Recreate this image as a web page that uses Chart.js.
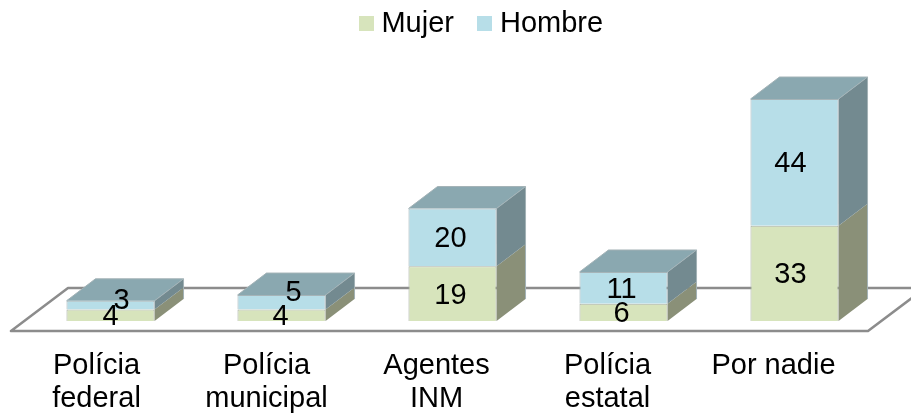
<!DOCTYPE html>
<html>
<head>
<meta charset="utf-8">
<script src="https://cdn.jsdelivr.net/npm/chart.js@4"></script>
<style>
html, body { margin: 0; padding: 0; background: #fff; }
#wrap { width: 911px; height: 416px; }
</style>
</head>
<body>
<div id="wrap"><canvas id="chart"></canvas></div>
<script>
const categorias = [["Polícia", "federal"], ["Polícia", "municipal"], ["Agentes", "INM"], ["Polícia", "estatal"], "Por nadie"];
const mujer = [4, 4, 19, 6, 33];
const hombre = [3, 5, 20, 11, 44];

const fontName = '"Liberation Sans", Arial, sans-serif';
const depthX = 29, depthY = 22;

// caras laterales por serie
const caras = [
    { side: "#8A9078" },
    { side: "#738A90", top: "#8AA8B0" }
];

// corrimiento de textos respecto a cada barra
const corrimientoEje = [-14, -15, -16, -16, -21];
const corrimientoDato = [0, -1, -2, -2, -4];
// etiquetas que se solapan: [serie, categoria, dx, dy]
const ajustes = [[1, 0, 11, -6], [1, 1, 12, -11]];

function leyendaBox(color) {
    const c = document.createElement("canvas");
    c.width = 15;
    c.height = 15;
    const g = c.getContext("2d");
    g.fillStyle = color;
    g.fillRect(0, 0, 15, 15);
    return c;
}

function poly(ctx, pts, fill) {
    ctx.beginPath();
    pts.forEach((p, i) => i ? ctx.lineTo(p[0], p[1]) : ctx.moveTo(p[0], p[1]));
    ctx.closePath();
    ctx.fillStyle = fill;
    ctx.fill();
}

const bar3d = {
    id: "bar3d",
    afterLayout(chart) {
        // centra la leyenda como en el original
        chart.legend.left += 32;
        chart.legend.right += 32;
        chart.scales.x.getLabelItems().forEach((item, i) => {
            item.options.translation[0] += corrimientoEje[i];
        });
    },
    beforeDatasetsDraw(chart) {
        const ctx = chart.ctx;
        const area = chart.chartArea;
        const y0 = chart.scales.y.getPixelForValue(0);

        // piso
        const fy = y0 + 10;
        const fl = area.left - 14;
        const fr = area.right - 12;
        const bdy = 43, bdx = 57;
        ctx.save();
        ctx.strokeStyle = "#8C8C8C";
        ctx.lineWidth = 2.5;
        ctx.lineJoin = "round";
        ctx.beginPath();
        ctx.moveTo(fl, fy);
        ctx.lineTo(fr, fy);
        ctx.lineTo(fr + bdx, fy - bdy);
        ctx.lineTo(fl + bdx, fy - bdy);
        ctx.closePath();
        ctx.stroke();

        // lados y tapas
        chart.data.datasets.forEach((ds, i) => {
            chart.getDatasetMeta(i).data.forEach(bar => {
                const p = bar.getProps(["x", "y", "base", "width"], true);
                const r = p.x + p.width / 2;
                const l = p.x - p.width / 2;
                poly(ctx, [[r, p.base], [r + depthX, p.base - depthY], [r + depthX, p.y - depthY], [r, p.y]], caras[i].side);
                if (caras[i].top) {
                    poly(ctx, [[l, p.y], [l + depthX, p.y - depthY], [r + depthX, p.y - depthY], [r, p.y]], caras[i].top);
                    // borde claro de la tapa
                    ctx.strokeStyle = "#A3B2B6";
                    ctx.lineWidth = 1;
                    ctx.beginPath();
                    ctx.moveTo(l, p.y);
                    ctx.lineTo(l + depthX, p.y - depthY);
                    ctx.lineTo(r + depthX, p.y - depthY);
                    ctx.lineTo(r, p.y);
                    ctx.moveTo(r + depthX, p.y - depthY);
                    ctx.lineTo(r + depthX, chart.getDatasetMeta(0).data[0].base - depthY);
                    ctx.stroke();
                }
            });
        });
        ctx.restore();
    },
    afterDatasetsDraw(chart) {
        const ctx = chart.ctx;
        ctx.save();
        ctx.font = "29px " + fontName;
        ctx.fillStyle = "#000";
        ctx.textAlign = "center";
        ctx.textBaseline = "middle";
        chart.data.datasets.forEach((ds, i) => {
            chart.getDatasetMeta(i).data.forEach((bar, j) => {
                const p = bar.getProps(["x", "y", "base"], true);
                const aj = ajustes.find(a => a[0] === i && a[1] === j);
                const dx = aj ? aj[2] : corrimientoDato[j];
                const dy = aj ? aj[3] : 0;
                ctx.fillText(ds.data[j], p.x + dx, (p.y + p.base) / 2 + dy + 2);
            });
        });
        ctx.restore();
    }
};

new Chart(document.getElementById("chart"), {
    type: "bar",
    data: {
        labels: categorias,
        datasets: [
            { label: "Mujer", data: mujer, backgroundColor: "#D7E4BC", borderColor: "#A9B0A4", borderWidth: 1, pointStyle: leyendaBox("#D7E4BC") },
            { label: "Hombre", data: hombre, backgroundColor: "#B7DEE8", borderColor: "#A6B4B8", borderWidth: 1, pointStyle: leyendaBox("#B7DEE8") }
        ]
    },
    options: {
        responsive: true,
        maintainAspectRatio: false,
        animation: false,
        layout: { padding: { left: 25, right: 31, top: -21.5, bottom: 0 } },
        datasets: { bar: { categoryPercentage: 1, barPercentage: 0.515 } },
        plugins: {
            tooltip: { enabled: false },
            legend: {
                position: "top",
                labels: {
                    usePointStyle: true,
                    pointStyleWidth: 1,
                    padding: 30.5,
                    color: "#000",
                    font: { size: 29, family: fontName }
                }
            }
        },
        scales: {
            x: {
                stacked: true,
                grid: { display: false },
                border: { display: false },
                afterFit(scale) { scale.height = 95; },
                ticks: {
                    color: "#000",
                    maxRotation: 0,
                    autoSkip: false,
                    padding: 20,
                    font: { size: 29, family: fontName, lineHeight: 1.14 }
                }
            },
            y: {
                stacked: true,
                display: false,
                min: 0,
                max: 94.7
            }
        }
    },
    plugins: [bar3d]
});
</script>
</body>
</html>
